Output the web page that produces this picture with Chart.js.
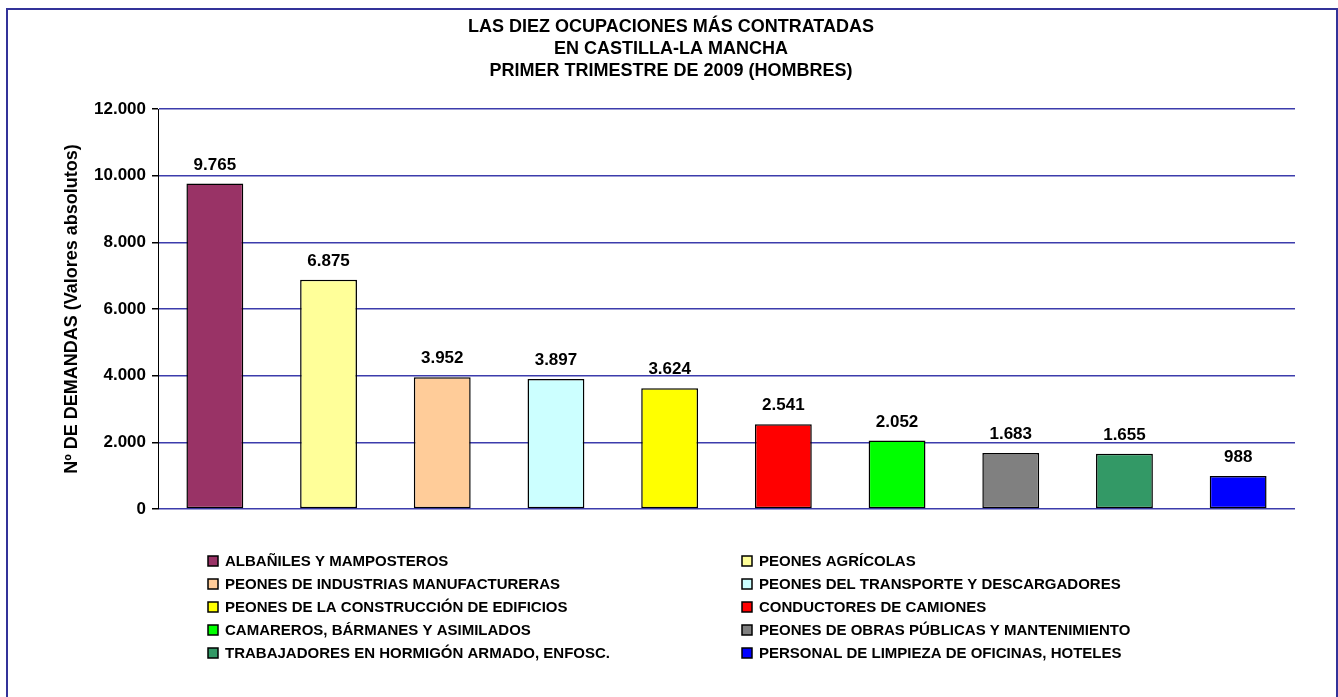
<!DOCTYPE html>
<html>
<head>
<meta charset="utf-8">
<script src="https://cdn.jsdelivr.net/npm/chart.js@4.4.1/dist/chart.umd.min.js"></script>
<style>
  html, body { margin: 0; padding: 0; background: #fff; }
  #wrap { position: relative; width: 1338px; height: 697px; overflow: hidden; }
  #frame { position: absolute; left: 6px; top: 8px; width: 1328px; height: 700px; border: 2px solid #333399; pointer-events: none; }
  canvas { position: absolute; left: 0; top: 0; }
</style>
</head>
<body>
<div id="wrap">
  <canvas id="chart" width="1338" height="697"></canvas>
  <div id="frame"></div>
</div>
<script>
// --- data ---
const titleLines = [
    'LAS DIEZ OCUPACIONES MÁS CONTRATADAS',
    'EN CASTILLA-LA MANCHA',
    'PRIMER TRIMESTRE DE 2009 (HOMBRES)'
];
const yAxisTitle = 'Nº DE DEMANDAS (Valores absolutos)';

const occupations = [
    'ALBAÑILES Y MAMPOSTEROS',
    'PEONES AGRÍCOLAS',
    'PEONES DE INDUSTRIAS MANUFACTURERAS',
    'PEONES DEL TRANSPORTE Y DESCARGADORES',
    'PEONES DE LA CONSTRUCCIÓN DE EDIFICIOS',
    'CONDUCTORES DE CAMIONES',
    'CAMAREROS, BÁRMANES Y ASIMILADOS',
    'PEONES DE OBRAS PÚBLICAS Y MANTENIMIENTO',
    'TRABAJADORES EN HORMIGÓN ARMADO, ENFOSC.',
    'PERSONAL DE LIMPIEZA DE OFICINAS, HOTELES'
];
const demands = [9765, 6875, 3952, 3897, 3624, 2541, 2052, 1683, 1655, 988];
const barColors = [
    '#993366', '#FFFF99', '#FFCC99', '#CCFFFF', '#FFFF00',
    '#FF0000', '#00FF00', '#808080', '#339966', '#0000FF'
];
const yMin = 0;
const yMax = 12000;
const yStep = 2000;

const FONT = 'Arial, "Liberation Sans", sans-serif';

// 9765 -> "9.765"
function fmt(v) {
    return String(Math.round(v)).replace(/\B(?=(\d{3})+(?!\d))/g, '.');
}

// three-line title, centred on the outer frame (Excel style)
const frameTitle = {
    id: 'frameTitle',
    afterDraw(chart) {
        const ctx = chart.ctx;
        ctx.save();
        ctx.font = 'bold 18px ' + FONT;
        ctx.fillStyle = '#000';
        ctx.textAlign = 'center';
        ctx.textBaseline = 'middle';
        titleLines.forEach((line, i) => {
            ctx.fillText(line, 671, 27 + i * 22);
        });
        ctx.restore();
    }
};

// value labels above each bar
const valueLabels = {
    id: 'valueLabels',
    afterDatasetsDraw(chart) {
        const ctx = chart.ctx;
        const meta = chart.getDatasetMeta(0);
        ctx.save();
        ctx.font = 'bold 17px ' + FONT;
        ctx.fillStyle = '#000';
        ctx.textAlign = 'center';
        ctx.textBaseline = 'alphabetic';
        meta.data.forEach((bar, i) => {
            ctx.fillText(fmt(chart.data.datasets[0].data[i]), bar.x, bar.y - 14);
        });
        ctx.restore();
    }
};

// two-column legend under the plot
const gridLegend = {
    id: 'gridLegend',
    afterDraw(chart) {
        const ctx = chart.ctx;
        const colX = [208, 742];
        const top = 561, rowH = 23, box = 10;
        const ds = chart.data.datasets[0];
        ctx.save();
        ctx.font = 'bold 15px ' + FONT;
        ctx.textBaseline = 'middle';
        ctx.textAlign = 'left';
        chart.data.labels.forEach((lab, i) => {
            const x = colX[i % 2];
            const y = top + Math.floor(i / 2) * rowH;
            ctx.fillStyle = ds.backgroundColor[i];
            ctx.fillRect(x, y - box / 2, box, box);
            ctx.strokeStyle = '#000';
            ctx.lineWidth = 1.5;
            ctx.strokeRect(x, y - box / 2, box, box);
            ctx.fillStyle = '#000';
            ctx.fillText(lab, x + 17, y + 1);
        });
        ctx.restore();
    }
};

new Chart(document.getElementById('chart'), {
    type: 'bar',
    data: {
        labels: occupations,
        datasets: [{
            data: demands,
            backgroundColor: barColors,
            borderColor: '#000',
            borderWidth: 1.5,
            borderSkipped: false,
            barPercentage: 0.5,
            categoryPercentage: 1
        }]
    },
    options: {
        responsive: false,
        animation: false,
        devicePixelRatio: 1,
        layout: {
            padding: { left: 0, right: 43, top: 109, bottom: 188 }
        },
        plugins: {
            legend: { display: false },
            tooltip: { enabled: false },
            title: { display: false }
        },
        scales: {
            x: {
                display: false
            },
            y: {
                min: yMin,
                max: yMax,
                afterFit(scale) { scale.width = 158; },
                border: { display: true, color: '#000', width: 1 },
                grid: {
                    color: '#3c3cac',
                    lineWidth: 1.5,
                    drawTicks: true,
                    tickLength: 6,
                    tickColor: '#000'
                },
                ticks: {
                    stepSize: yStep,
                    padding: 6,
                    color: '#000',
                    font: { family: FONT, size: 17, weight: 'bold' },
                    callback: v => fmt(v)
                },
                title: {
                    display: true,
                    text: yAxisTitle,
                    color: '#000',
                    font: { family: FONT, size: 18, weight: 'bold' },
                    padding: { top: 61, bottom: 0 }
                }
            }
        }
    },
    plugins: [frameTitle, valueLabels, gridLegend]
});
</script>
</body>
</html>
